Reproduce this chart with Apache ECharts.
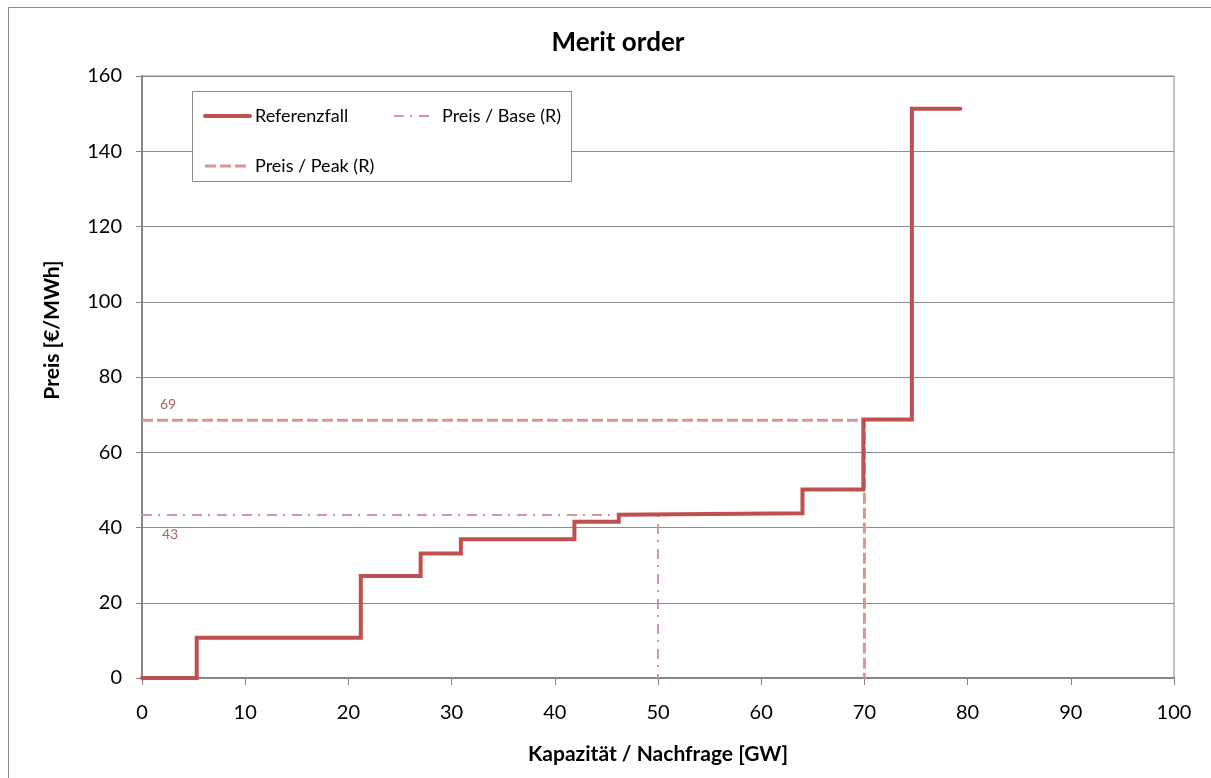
<!DOCTYPE html>
<html>
<head>
<meta charset="utf-8">
<script src="https://cdn.jsdelivr.net/npm/echarts@6/dist/echarts.min.js"></script>
<style>
html,body{margin:0;padding:0;background:#fff;}
#chart{width:1211px;height:778px;}
</style>
</head>
<body>
<div id="chart"></div>
<script>
// Merit order curve vertices (capacity GW, price €/MWh)
const meritX = [0, 5.3, 5.3, 21.2, 21.2, 27.0, 27.0, 30.9, 30.9, 41.9, 41.9, 46.2, 46.2, 64.0, 64.0, 69.9, 69.9, 74.6, 74.6, 79.3];
const meritY = [0, 0, 10.7, 10.7, 27.1, 27.1, 33.1, 33.1, 36.9, 36.9, 41.5, 41.5, 43.4, 43.8, 50.1, 50.1, 68.7, 68.7, 151.3, 151.3];
// Reference lines
const baseX = [0, 50, 50];
const baseY = [43.3, 43.3, 0];
const peakX = [0, 70, 70];
const peakY = [68.5, 68.5, 0];
const seriesNames = ['Referenzfall', 'Preis / Base (R)', 'Preis / Peak (R)'];
const xTicks = [0, 10, 20, 30, 40, 50, 60, 70, 80, 90, 100];
const yTicks = [0, 20, 40, 60, 80, 100, 120, 140, 160];

const zip = (a, b) => a.map((v, i) => [v, b[i]]);
const FONT = 'Lato';
const AX = '#868686';
const MAIN = '#C0504D';
const REF = '#DA9694';

const mainStyle = {color: MAIN, width: 4, cap: 'round', join: 'miter'};
const peakStyle = {color: REF, width: 3, type: [11, 4]};
const baseStyle = {color: REF, width: 2, type: [10, 6, 2, 7]};

const chart = echarts.init(document.getElementById('chart'), null, {renderer: 'canvas'});
chart.setOption({
  animation: false,
  backgroundColor: '#ffffff',
  textStyle: {fontFamily: FONT},
  title: {
    text: 'Merit order', left: 613, textAlign: 'center', top: 25,
    textStyle: {fontFamily: FONT, fontWeight: 'bold', fontSize: 26, color: '#000'}
  },
  graphic: [
    {type: 'rect', z: -10, silent: true, shape: {x: 8.5, y: 7.5, width: 1220, height: 800},
     style: {fill: '#fff', stroke: '#8c8c8c', lineWidth: 1}},
    {type: 'rect', z: 50, silent: true, shape: {x: 192.5, y: 91.5, width: 379, height: 90},
     style: {fill: '#fff', stroke: '#8c8c8c', lineWidth: 1}}
  ],
  grid: {left: 142, right: 37, top: 76, bottom: 100, show: true, borderColor: AX, borderWidth: 1, backgroundColor: 'transparent'},
  legend: [
    {data: [{name: seriesNames[0], lineStyle: mainStyle}, {name: seriesNames[2], lineStyle: peakStyle}],
     orient: 'vertical', left: 203, top: 107, z: 60, padding: 0,
     itemWidth: 45, itemHeight: 14, itemGap: 32,
     itemStyle: {opacity: 0, borderWidth: 0},
     textStyle: {fontFamily: FONT, fontSize: 18, lineHeight: 14, color: '#000'}},
    {data: [{name: seriesNames[1], lineStyle: baseStyle}],
     orient: 'vertical', left: 393, top: 107, z: 60, padding: 0,
     itemWidth: 37, itemHeight: 14,
     itemStyle: {opacity: 0, borderWidth: 0},
     textStyle: {fontFamily: FONT, fontSize: 18, lineHeight: 14, color: '#000', padding: [0, 0, 0, 6]}}
  ],
  xAxis: {
    type: 'value', min: 0, max: 100, interval: 10,
    name: 'Kapazität / Nachfrage [GW]', nameLocation: 'middle', nameGap: 66,
    nameTextStyle: {fontFamily: FONT, fontWeight: 'bold', fontSize: 21, color: '#000'},
    axisLine: {show: true, lineStyle: {color: AX, width: 2}},
    axisTick: {show: true, inside: false, length: 7, lineStyle: {color: AX}},
    axisLabel: {margin: 25, fontFamily: FONT, fontSize: 20, color: '#000',
      formatter: v => xTicks.includes(v) ? String(v) : ''},
    splitLine: {show: false}
  },
  yAxis: {
    type: 'value', min: 0, max: 160, interval: 20,
    name: 'Preis [€/MWh]', nameLocation: 'middle', nameGap: 79, nameRotate: 90,
    nameTextStyle: {fontFamily: FONT, fontWeight: 'bold', fontSize: 21, color: '#000', padding: [0, 0, 0, 94]},
    axisLine: {show: true, lineStyle: {color: AX, width: 2}},
    axisTick: {show: true, inside: false, length: 6, lineStyle: {color: AX}},
    axisLabel: {margin: 20, fontFamily: FONT, fontSize: 20, color: '#000',
      formatter: v => yTicks.includes(v) ? String(v) : ''},
    splitLine: {show: true, lineStyle: {color: '#8c8c8c', width: 1}}
  },
  series: [
    {name: seriesNames[2], type: 'line', data: zip(peakX, peakY), symbol: 'none', z: 3,
     color: REF, lineStyle: peakStyle},
    {name: seriesNames[1], type: 'line', data: zip(baseX, baseY), symbol: 'none', z: 3,
     color: REF, lineStyle: baseStyle},
    {name: seriesNames[0], type: 'line', data: zip(meritX, meritY), symbol: 'none', z: 4,
     color: MAIN, lineStyle: mainStyle},
    {name: 'labels', type: 'scatter', symbolSize: 0, z: 5, silent: true,
     data: [
       {value: [0, peakY[0]], label: {show: true, position: 'right', offset: [13, -16],
         formatter: () => String(Math.round(peakY[0]))}},
       {value: [0, baseY[0]], label: {show: true, position: 'right', offset: [15, 19],
         formatter: () => String(Math.round(baseY[0]))}}
     ],
     label: {fontFamily: FONT, fontSize: 14, color: '#953735'}}
  ]
});
</script>
</body>
</html>
